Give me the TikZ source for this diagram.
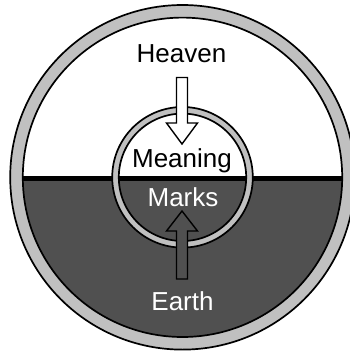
\documentclass[tikz,border=0pt]{standalone}
\usepackage{fontspec}
\setmainfont{Liberation Sans}
\definecolor{darkfill}{RGB}{80,80,80}
\definecolor{ringgray}{RGB}{192,192,192}
\tikzset{
  ring/.style={draw=black, line width=1.7pt, fill=ringgray},
  divider/.style={draw=black, line width=4.5pt},
  lightarrow/.style={draw=black, line width=1.4pt, fill=white, line join=miter},
  darkarrow/.style={draw=black, line width=1.4pt, fill=darkfill, line join=miter},
  lbl/.style={font=\fontsize{26}{26}\selectfont, anchor=base, inner sep=0pt},
}
\begin{document}
\begin{tikzpicture}[x=1pt, y=-1pt]
\useasboundingbox (0,0) rectangle (350,351);
\coordinate (c) at (182.5,177.3);
% outer ring
\path[ring] (c) circle (172.3);
\begin{scope}
  \clip (c) circle (159.7);
  \fill[white] (0,0) rectangle (360,178.3);
  \fill[darkfill] (0,178.3) rectangle (360,360);
  \draw[divider] (0,178.3) -- (360,178.3);
\end{scope}
\draw[black, line width=1.7pt] (c) circle (159.7);
% inner ring
\path[ring] (c) circle (70.3);
\begin{scope}
  \clip (c) circle (63.7);
  \fill[white] (100,100) rectangle (260,178.3);
  \fill[darkfill] (100,178.3) rectangle (260,260);
  \draw[divider] (100,178.3) -- (260,178.3);
\end{scope}
\draw[black, line width=1.7pt] (c) circle (63.7);
% arrows
\draw[lightarrow] (176.5,77.5) -- (187.5,77.5) -- (187.5,123) -- (197.5,123) -- (182,144) -- (166.5,123) -- (176.5,123) -- cycle;
\draw[darkarrow] (176.5,279) -- (187.5,279) -- (187.5,231) -- (197.5,231) -- (182,211) -- (166.5,231) -- (176.5,231) -- cycle;
% labels
\node[lbl] (heaven) at (181.5,62.3) {Heaven};
\node[lbl] (meaning) at (182,167.3) {Meaning};
\node[lbl, text=white] (marks) at (183,206.7) {Marks};
\node[lbl, text=white] (earth) at (182.5,310.7) {Earth};
\end{tikzpicture}
\end{document}
